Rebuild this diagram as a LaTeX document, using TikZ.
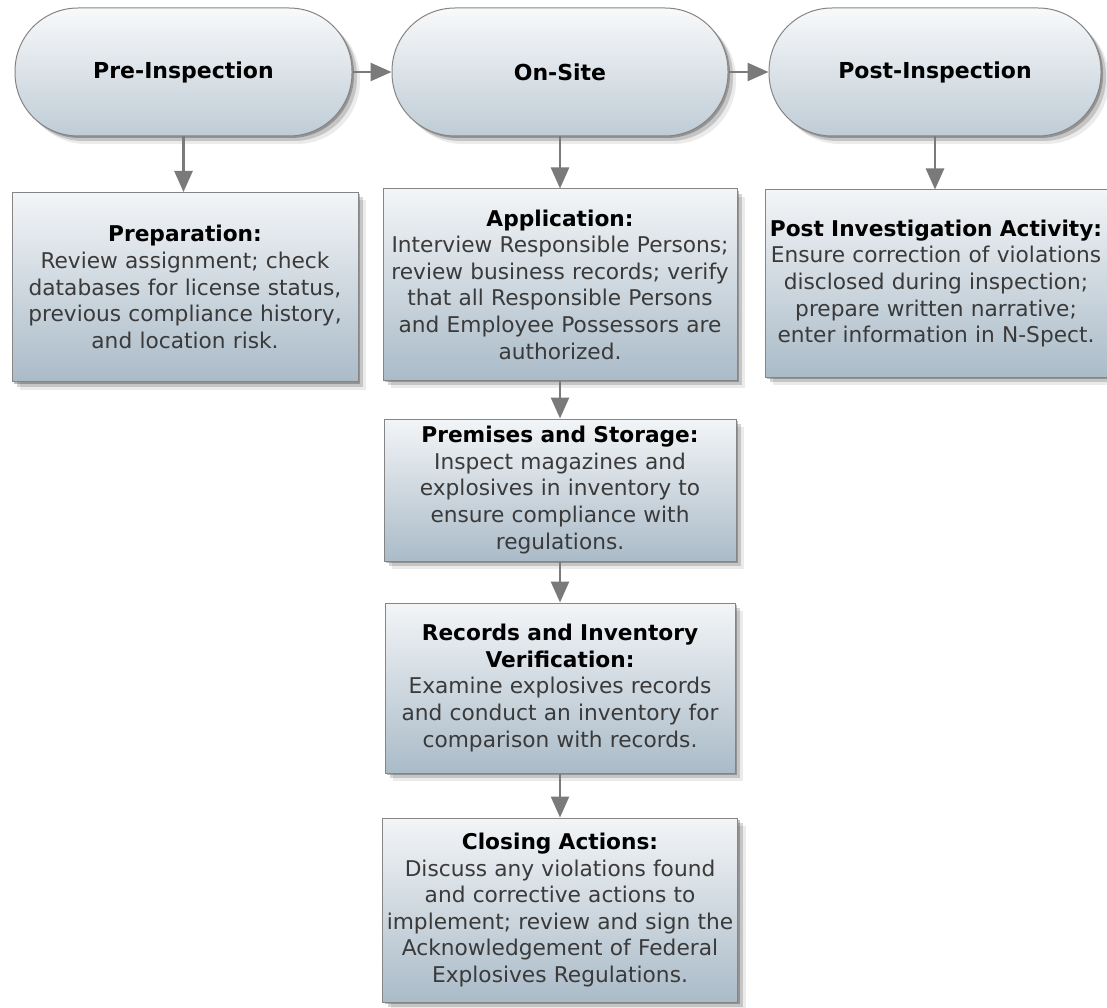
\documentclass[tikz,border=0pt]{standalone}
\usepackage{fontspec}
\setmainfont{DejaVu Sans}
\usepackage{xcolor}
\usetikzlibrary{arrows.meta,positioning,shadows}
\definecolor{edgegrey}{HTML}{858585}
\definecolor{arrowgrey}{HTML}{7A7A7A}
\definecolor{bodygrey}{HTML}{3A3A3A}
\definecolor{boxtop}{HTML}{F3F5F7}
\definecolor{boxbot}{HTML}{AABBC8}
\definecolor{pilltop}{HTML}{F8F9FA}
\definecolor{pillbot}{HTML}{BFCCD6}
\newcommand{\boxhead}[1]{{\bfseries\color{black}#1}}
\tikzset{
  softshadow/.style={
    drop shadow={shadow xshift=2pt,shadow yshift=-2pt,opacity=.25,fill=black},
    drop shadow={shadow xshift=5pt,shadow yshift=-5pt,opacity=.16,fill=black},
    drop shadow={shadow xshift=8pt,shadow yshift=-8pt,opacity=.08,fill=black}},
  box/.style={draw=edgegrey,line width=1pt,softshadow,top color=boxtop,
    bottom color=boxbot,align=center,inner sep=0pt,text=bodygrey,
    font=\fontsize{21.7}{26.6}\selectfont},
  pill/.style={box,rounded corners=63pt,top color=pilltop,bottom color=pillbot,
    minimum height=128pt,font=\fontsize{22}{26.6}\selectfont\bfseries,text=black},
  arrow/.style={-{Triangle[length=21pt,width=18pt]},line width=2.6pt,draw=arrowgrey}
}
\begin{document}
\begin{tikzpicture}[x=1pt,y=-1pt,
  stepbox/.style={box,minimum width=#1,text width=#1-2pt}]
  \useasboundingbox (0,0) rectangle (1107,1008);

  % phases
  \node[pill,minimum width=337pt] (pre) at (183.5,72) {Pre-Inspection};
  \node[pill,minimum width=336pt] (onsite) at (560,72) {On-Site};
  \node[pill,minimum width=332pt] (post) at (935,72) {Post-Inspection};
  \draw[arrow] (pre) -- (onsite);
  \draw[arrow] (onsite) -- (post);

  % activities
  \node[stepbox=346pt,minimum height=189pt] (prep) at (185,287)
    {\boxhead{Preparation:}\\Review assignment; check\\databases for license status,\\
     previous compliance history,\\and location risk.};
  \node[stepbox=354pt,minimum height=191pt] (appl) at (560,284.5)
    {\boxhead{Application:}\\Interview Responsible Persons;\\review business records; verify\\
     that all Responsible Persons\\and Employee Possessors are\\authorized.};
  \node[stepbox=342pt,minimum height=187pt] (postact) at (936,283.5)
    {\boxhead{Post Investigation Activity:}\\Ensure correction of violations\\
     disclosed during inspection;\\prepare written narrative;\\enter information in N-Spect.};
  \node[stepbox=352pt,minimum height=142pt] (premises) at (560,490)
    {\boxhead{Premises and Storage:}\\Inspect magazines and\\explosives in inventory to\\
     ensure compliance with\\regulations.};
  \node[stepbox=350pt,minimum height=170pt] (records) at (560,688)
    {\boxhead{Records and Inventory}\\\boxhead{Verification:}\\Examine explosives records\\
     and conduct an inventory for\\comparison with records.};
  \node[stepbox=355pt,minimum height=184pt] (closing) at (560,910)
    {\boxhead{Closing Actions:}\\Discuss any violations found\\and corrective actions to\\
     implement; review and sign the\\Acknowledgement of Federal\\Explosives Regulations.};

  \draw[arrow] (pre.south) -- (prep.north -| pre.south);
  \draw[arrow] (onsite) -- (appl);
  \draw[arrow] (post.south) -- (postact.north -| post.south);
  \draw[arrow] (appl) -- (premises);
  \draw[arrow] (premises) -- (records);
  \draw[arrow] (records) -- (closing);
\end{tikzpicture}
\end{document}
